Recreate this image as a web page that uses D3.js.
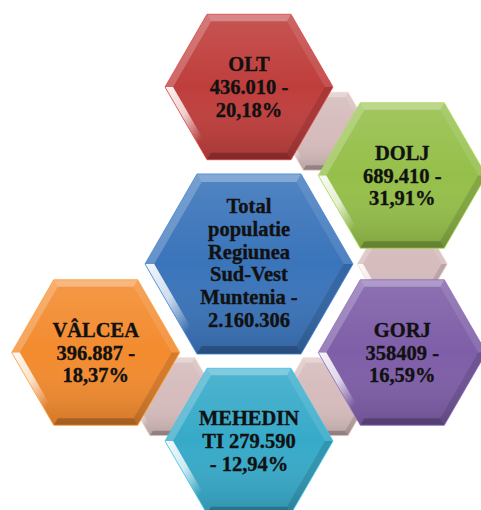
<!DOCTYPE html>
<html>
<head>
	<meta charset="utf-8">
	<title>Populatie Regiunea Sud-Vest Muntenia</title>
	<script src="https://cdn.jsdelivr.net/npm/d3@7"></script>
	<style>
		body{ margin:0; background:#fff; }
		svg{ display:block; }
		.lbl{ font-family:"Liberation Serif","Times New Roman",serif; font-weight:bold; font-size:20.5px; fill:#111; stroke:#111; stroke-width:0.35; text-anchor:middle; }
	</style>
</head>
<body>
<div id="chart"></div>
<script>
// data
var totalLines = ["Total", "populatie", "Regiunea", "Sud-Vest", "Muntenia  -", "2.160.306"];
var counties = ["OLT", "DOLJ", "GORJ", "MEHEDINTI", "VÂLCEA"];
var populations = ["436.010", "689.410", "358409", "279.590", "396.887"];
var shares = ["20,18%", "31,91%", "16,59%", "12,94%", "18,37%"];
var slots = [0, 1, 2, 3, 4];
var colors = ["#bf3e3c", "#95bf4a", "#7e5ea8", "#37aac9", "#f38b2f"];
var labelLines = [
	["OLT", "436.010 -", "20,18%"],
	["DOLJ", "689.410 -", "31,91%"],
	["GORJ", "358409 -", "16,59%"],
	["MEHEDIN", "TI 279.590", "- 12,94%"],
	["VÂLCEA", "396.887 -", "18,37%"]
];
var centerColor = "#3a74ba";
var linkColor = "#d6bcbc";

var W = 481, H = 510;
var cx0 = 249, cy0 = 264, dist = 177;
var rOuter = 84, rCenter = 104, rLink = 45;

var svg = d3.select("#chart").append("svg").attr("width", W).attr("height", H);
var defs = svg.append("defs");

var shade = defs.append("linearGradient").attr("id", "shade")
	.attr("x1", 0).attr("y1", 0).attr("x2", 0).attr("y2", 1);
shade.append("stop").attr("offset", 0).attr("stop-color", "#fff").attr("stop-opacity", 0.12);
shade.append("stop").attr("offset", 0.5).attr("stop-color", "#fff").attr("stop-opacity", 0);
shade.append("stop").attr("offset", 1).attr("stop-color", "#000").attr("stop-opacity", 0.14);

var glint = defs.append("linearGradient").attr("id", "glint")
	.attr("x1", 0).attr("y1", 0).attr("x2", 1).attr("y2", 1);
glint.append("stop").attr("offset", 0).attr("stop-color", "#fff").attr("stop-opacity", 0.95);
glint.append("stop").attr("offset", 0.4).attr("stop-color", "#fff").attr("stop-opacity", 0.75);
glint.append("stop").attr("offset", 0.75).attr("stop-color", "#fff").attr("stop-opacity", 0);

// slot -> angle in degrees
var angle = d3.scaleLinear().domain([0, 6]).range([-90, 270]);

function polar(a, d){
	var t = a * Math.PI / 180;
	return [cx0 + d * Math.cos(t), cy0 + d * Math.sin(t)];
}

function hexPoints(cx, cy, r){
	return d3.range(6).map(function(k){
		var t = k * Math.PI / 3;
		return [cx + r * Math.cos(t), cy + r * Math.sin(t)];
	});
}

// facets: lower-right, bottom, lower-left, upper-left, top, upper-right
var facetFill = [
	["#000", 0.12], ["#000", 0.22], ["url(#glint)", 1],
	["#fff", 0.22], ["#fff", 0.3], ["#fff", 0.1]
];

function hexagon(g, cx, cy, r, color, bevel){
	var outer = hexPoints(cx, cy, r);
	var inner = hexPoints(cx, cy, r - bevel * 1.155);
	var line = d3.line();
	g.append("path").attr("d", line(outer) + "Z").attr("fill", color);
	g.append("path").attr("d", line(outer) + "Z").attr("fill", "url(#shade)");
	for(var k = 0; k < 6; k++){
		var n = (k + 1) % 6;
		g.append("path")
			.attr("d", line([outer[k], outer[n], inner[n], inner[k]]) + "Z")
			.attr("fill", facetFill[k][0])
			.attr("fill-opacity", facetFill[k][1]);
	}
	g.append("path").attr("d", line(outer) + "Z")
		.attr("fill", "none").attr("stroke", d3.color(color).brighter(0.4)).attr("stroke-width", 0.8);
}

function label(g, lines, x, y, step, off){
	var t = g.append("text").attr("class", "lbl");
	t.selectAll("tspan").data(lines).enter().append("tspan")
		.attr("x", x)
		.attr("y", function(d, j){ return y + (j - (lines.length - 1) / 2) * step + off; })
		.text(function(d){ return d; });
}

// connectors between neighbouring outer hexagons
var links = svg.append("g");
for(var i = 0; i < slots.length - 1; i++){
	var p = polar(angle(slots[i] + 0.5), dist * Math.cos(Math.PI / 6));
	hexagon(links.append("g"), p[0], p[1], rLink, linkColor, 5);
}

// center
var center = svg.append("g");
hexagon(center, cx0, cy0, rCenter, centerColor, 8);
label(center, totalLines, cx0, cy0, 22.8, 6);

// outer hexagons
counties.forEach(function(c, i){
	var p = polar(angle(slots[i]), dist);
	var g = svg.append("g").attr("class", "county");
	hexagon(g, p[0], p[1], rOuter, colors[i], 7);
	label(g, labelLines[i], p[0], p[1], 22.8, 7);
});
</script>
</body>
</html>
